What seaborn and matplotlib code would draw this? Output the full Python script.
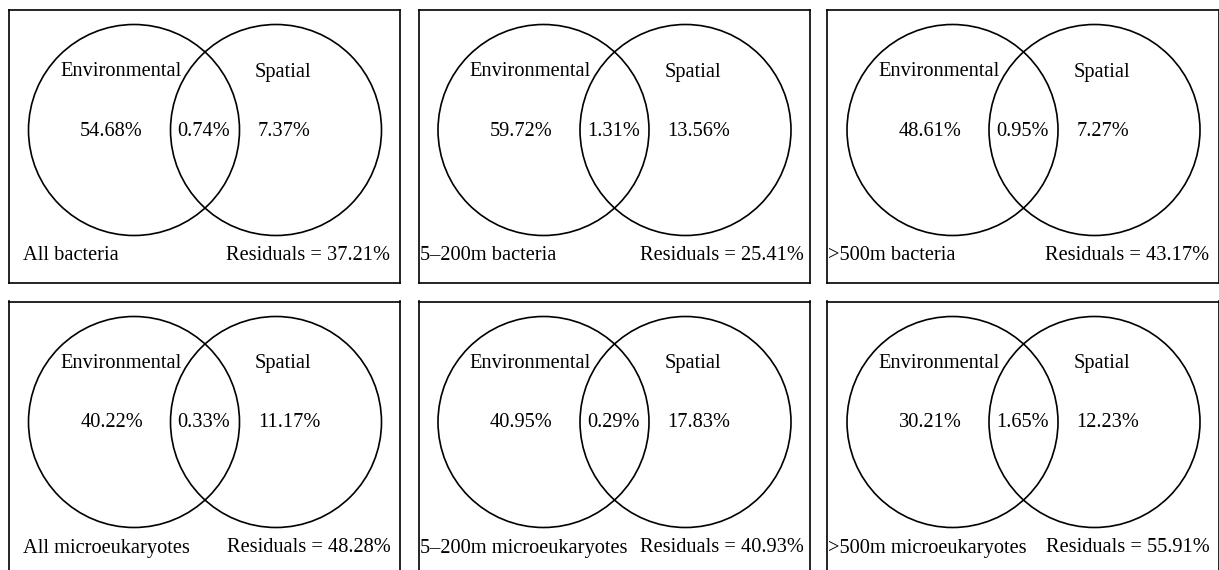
import matplotlib
matplotlib.use("Agg")
import matplotlib.pyplot as plt
from matplotlib.patches import Circle
import seaborn as sns

# Variation partitioning results (% of community variation explained)
groups = ["All bacteria", "5–200m bacteria", ">500m bacteria",
          "All microeukaryotes", "5–200m microeukaryotes", ">500m microeukaryotes"]
environmental = [54.68, 59.72, 48.61, 40.22, 40.95, 30.21]
shared = [0.74, 1.31, 0.95, 0.33, 0.29, 1.65]
spatial = [7.37, 13.56, 7.27, 11.17, 17.83, 12.23]
residuals = [37.21, 25.41, 43.17, 48.28, 40.93, 55.91]
set_names = ["Environmental", "Spatial"]

sns.set_theme(style="white")
plt.rcParams["font.family"] = ["Liberation Serif", "DejaVu Serif"]

W, H, DPI = 1219, 570, 100
fig = plt.figure(figsize=(W / DPI, H / DPI), dpi=DPI)
fig.patch.set_facecolor("white")

# panel layout in pixels
box_left = [9, 418.5, 827.5]
box_top = [9.5, 301.5]
box_w, box_h = 391, 273
circle_x = [125, 267]
circle_y = 120.5
radius = 105.5
label_left = [14, 1.5, 1]
resid_right = [381.5, 385.5, 382]
fs = 14.7
ink = "black"
lw = 1.2

for i, name in enumerate(groups):
    r, c = divmod(i, 3)
    x0, y0 = box_left[c], box_top[r]
    ax = fig.add_axes([x0 / W, 1 - (y0 + box_h) / H, box_w / W, box_h / H])
    ax.set_xlim(0, box_w)
    ax.set_ylim(box_h, 0)
    ax.set_xticks([])
    ax.set_yticks([])
    ax.set_facecolor("white")
    for s in ax.spines.values():
        s.set_visible(True)
        s.set_color(ink)
        s.set_linewidth(lw)

    for cx in circle_x:
        ax.add_patch(Circle((cx, circle_y), radius, fill=False, ec=ink, lw=lw))

    ax.text(112, 67, set_names[0], ha="center", va="baseline", fontsize=fs, color=ink)
    ax.text(274, 67, set_names[1], ha="center", va="baseline", fontsize=fs, color=ink)

    ax.text(134, 126, f"{environmental[i]:.2f}%", ha="right", va="baseline", fontsize=fs, color=ink)
    ax.text(195, 126, f"{shared[i]:.2f}%", ha="center", va="baseline", fontsize=fs, color=ink)
    ax.text(249, 126, f"{spatial[i]:.2f}%", ha="left", va="baseline", fontsize=fs, color=ink)

    ax.text(label_left[c], 251, name, ha="left", va="baseline", fontsize=fs, color=ink)
    ax.text(resid_right[c], 251, f"Residuals = {residuals[i]:.2f}%", ha="right",
            va="baseline", fontsize=fs, color=ink)

fig.savefig("out.png", dpi=DPI, facecolor="white")
